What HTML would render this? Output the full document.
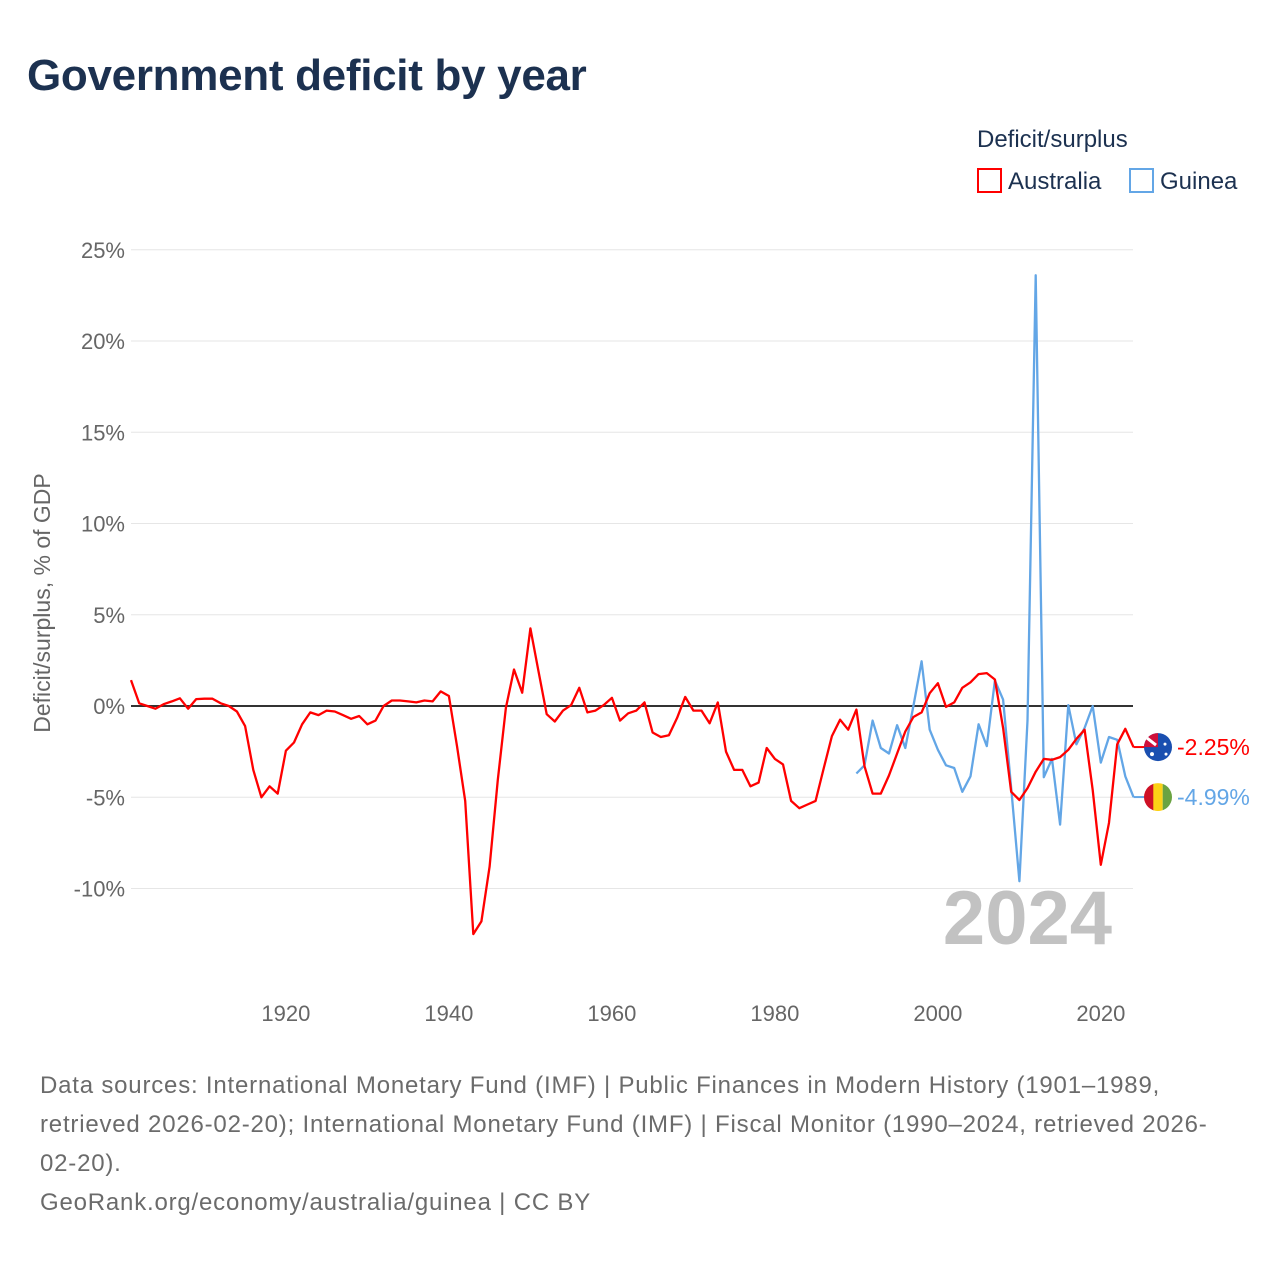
<!DOCTYPE html>
<html><head><meta charset="utf-8"><style>
body{margin:0;width:1280px;height:1280px;background:#fff;font-family:"Liberation Sans",sans-serif;overflow:hidden}
#title{position:absolute;left:27px;top:51px;font-size:44px;font-weight:bold;color:#1c3150;letter-spacing:-0.3px;margin:0}
#foot{position:absolute;left:40px;top:1066px;width:1240px;font-size:24px;line-height:39px;color:#6b6b6b;white-space:nowrap;letter-spacing:0.8px}
</style></head><body>
<h1 id="title">Government deficit by year</h1>
<svg id="chart" width="1280" height="1060" style="position:absolute;left:0;top:0" xmlns="http://www.w3.org/2000/svg" font-family="Liberation Sans, sans-serif"></svg>
<div id="foot">Data sources: International Monetary Fund (IMF) | Public Finances in Modern History (1901–1989,<br>retrieved 2026-02-20); International Monetary Fund (IMF) | Fiscal Monitor (1990–2024, retrieved 2026-<br>02-20).<br>GeoRank.org/economy/australia/guinea | CC BY</div>
<script>
const yTicks=[-10,-5,0,5,10,15,20,25];
const yTickLabels=["-10%","-5%","0%","5%","10%","15%","20%","25%"];
const xTicks=[1920,1940,1960,1980,2000,2020];
const ausStart=1901;
const ausValues=[1.42,0.15,0,-0.15,0.1,0.25,0.42,-0.15,0.38,0.4,0.4,0.15,0,-0.3,-1.1,-3.5,-5.0,-4.4,-4.8,-2.45,-2.0,-1.0,-0.35,-0.5,-0.25,-0.3,-0.5,-0.7,-0.55,-1.0,-0.8,0,0.3,0.3,0.25,0.2,0.3,0.25,0.8,0.55,-2.2,-5.2,-12.5,-11.8,-8.8,-4.05,-0.1,2.0,0.73,4.25,1.9,-0.45,-0.85,-0.25,0.05,1.0,-0.35,-0.25,0.05,0.45,-0.8,-0.4,-0.25,0.2,-1.45,-1.7,-1.6,-0.65,0.5,-0.25,-0.25,-0.95,0.2,-2.5,-3.5,-3.5,-4.4,-4.2,-2.3,-2.9,-3.2,-5.2,-5.6,-5.4,-5.2,-3.4,-1.65,-0.75,-1.3,-0.2,-3.3,-4.8,-4.8,-3.8,-2.6,-1.4,-0.6,-0.35,0.7,1.25,-0.05,0.2,1.0,1.3,1.75,1.8,1.45,-1.2,-4.7,-5.15,-4.5,-3.6,-2.9,-2.95,-2.8,-2.4,-1.8,-1.3,-4.6,-8.7,-6.4,-2.1,-1.25,-2.25];
const guiStart=1990;
const guiValues=[-3.7,-3.25,-0.8,-2.3,-2.6,-1.05,-2.3,0,2.45,-1.3,-2.4,-3.25,-3.4,-4.7,-3.85,-1.0,-2.2,1.4,0.35,-4.5,-9.6,-0.8,23.6,-3.9,-2.9,-6.5,0.05,-2.1,-1.2,0.0,-3.1,-1.7,-1.85,-3.85,-4.99];
const NS="http://www.w3.org/2000/svg";
const svg=document.getElementById('chart');
const X=yr=>131+(yr-1901)*(815/100);
const Y=v=>706-v*18.25;
function el(t,a,p){const e=document.createElementNS(NS,t);for(const k in a)e.setAttribute(k,a[k]);(p||svg).appendChild(e);return e;}
yTicks.forEach((v,i)=>{
 if(v!==0){const g=el('line',{x1:131,x2:1133,y1:Y(v),y2:Y(v),stroke:'#e6e6e6','stroke-width':1});
 
 }
 const t=el('text',{x:125,y:Y(v)+8,'text-anchor':'end','font-size':22,fill:'#666'});t.textContent=yTickLabels[i];
 
 
});
xTicks.forEach(yr=>{const t=el('text',{x:X(yr),y:1021,'text-anchor':'middle','font-size':22,fill:'#666'});t.textContent=yr;
 
 });
const zl=el('line',{x1:131,x2:1133,y1:Y(0),y2:Y(0),stroke:'#333','stroke-width':2});


const yt=el('text',{transform:'translate(50,603) rotate(-90)','text-anchor':'middle','font-size':23,fill:'#666'});yt.textContent='Deficit/surplus, % of GDP';


const yr=el('text',{x:1112,y:944,'text-anchor':'end','font-size':76,'font-weight':'bold',fill:'#c2c2c2'});yr.textContent='2024';


function series(start,vals,color,name){
 const pts=vals.map((v,i)=>X(start+i).toFixed(1)+','+Y(v).toFixed(1)).join(' ');
 const p=el('polyline',{points:pts,fill:'none',stroke:color,'stroke-width':2.3,'stroke-linejoin':'round'});
 
 
 const lx=X(start+vals.length-1);const ly=Y(vals[vals.length-1]);
 el('line',{x1:lx,x2:1146,y1:ly,y2:ly,stroke:color,'stroke-width':2});
 return ly;
}
const gy=series(guiStart,guiValues,'#63a6e6','guinea-line');
const ay=series(ausStart,ausValues,'#ff0000','australia-line');
const fa=el('g',{});


el('circle',{cx:1158,cy:ay,r:14,fill:'#1a4fb0'},fa);
el('path',{d:`M1144 ${ay} A14 14 0 0 1 1158 ${ay-14} L1158 ${ay} Z`,fill:'#d0103a'},fa);
el('path',{d:`M1147 ${ay-9} L1156 ${ay-2}`,stroke:'#fff','stroke-width':3},fa);
el('circle',{cx:1152,cy:ay+7,r:2,fill:'#fff'},fa);el('circle',{cx:1165,cy:ay-3,r:1.5,fill:'#fff'},fa);el('circle',{cx:1166,cy:ay+7,r:1.5,fill:'#fff'},fa);
const at=el('text',{x:1177,y:ay+8,'font-size':23,fill:'#ff0000'});at.textContent='-2.25%';


const fg=el('g',{});


el('defs',{},fg).innerHTML='<clipPath id="gc"><circle cx="1158" cy="'+gy+'" r="14"/></clipPath>';
el('rect',{x:1144,y:gy-14,width:10,height:28,fill:'#ce1126','clip-path':'url(#gc)'},fg);
el('rect',{x:1153.3,y:gy-14,width:9.4,height:28,fill:'#fcd116','clip-path':'url(#gc)'},fg);
el('rect',{x:1162.7,y:gy-14,width:10,height:28,fill:'#6aa342','clip-path':'url(#gc)'},fg);
const gt=el('text',{x:1177,y:gy+8,'font-size':23,fill:'#63a6e6'});gt.textContent='-4.99%';


const lt=el('text',{x:977,y:147,'font-size':24,fill:'#1c3150'});lt.textContent='Deficit/surplus';


const l1=el('g',{});


el('rect',{x:978,y:169,width:23,height:23,fill:'none',stroke:'#ff0000','stroke-width':2},l1);
el('text',{x:1008,y:189,'font-size':24,fill:'#1c3150'},l1).textContent='Australia';
const l2=el('g',{});


el('rect',{x:1130,y:169,width:23,height:23,fill:'none',stroke:'#63a6e6','stroke-width':2},l2);
el('text',{x:1160,y:189,'font-size':24,fill:'#1c3150'},l2).textContent='Guinea';
</script>
</body></html>
